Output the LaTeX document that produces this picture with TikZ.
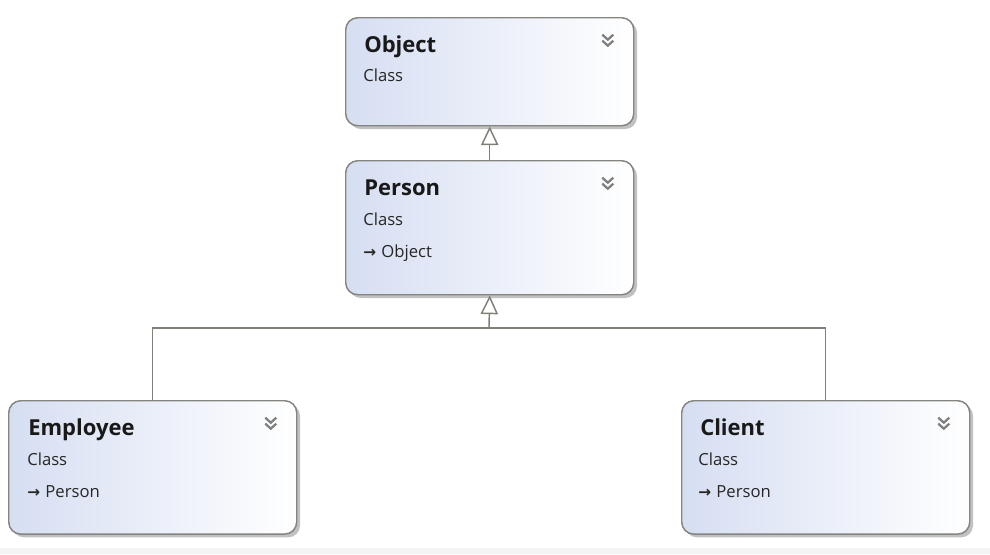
\documentclass[tikz,border=0pt]{standalone}
\usepackage{fontspec}
\setmainfont{Open Sans}
\newfontfamily\arrowfont{DejaVu Sans}
\usetikzlibrary{arrows.meta,shadows}
\definecolor{boxline}{RGB}{132,132,128}
\definecolor{boxleft}{RGB}{214,222,242}
\definecolor{conn}{RGB}{128,128,120}
\definecolor{strip}{RGB}{244,244,244}
\tikzset{
  classbox/.style={draw=boxline,line width=1.1pt,rounded corners=9pt,left color=boxleft,right color=white,
    minimum width=216pt,inner sep=0pt,anchor=north west,
    drop shadow={shadow xshift=2.5pt,shadow yshift=-2.5pt,fill=black!30,opacity=.8}},
  title/.style={anchor=base west,inner sep=0pt,font=\bfseries\fontsize{16.5}{19}\selectfont,text=black!90},
  info/.style={anchor=base west,inner sep=0pt,font=\fontsize{12.5}{14}\selectfont,text=black!85},
  link/.style={draw=conn,line width=1.1pt},
  inherit/.style={link,-{Triangle[open,length=14pt,width=13pt,fill=white]}},
  fold/.pic={\draw[gray,line width=1.7pt] (-5.5,-5) -- (0,0) -- (5.5,-5) (-5.5,1) -- (0,6) -- (5.5,1);}
}
\newcommand\basetype{{\arrowfont\bfseries\fontsize{11.5}{13}\selectfont →}\hspace{4pt}}
\begin{document}
\begin{tikzpicture}[x=0.75pt,y=-0.75pt]
                \useasboundingbox (0,0) rectangle (990,554);
                \fill[strip] (0,548) rectangle (990,554);
                \node[classbox,minimum height=81pt] (object) at (345,17) {};
                \node[classbox,minimum height=100.5pt] (person) at (345,160) {};
                \node[classbox,minimum height=100pt] (employee) at (8,400) {};
                \node[classbox,minimum height=100pt] (client) at (681,400) {};
                \node[title] (objectname) at (364,52) {Object};
                \node[info] (objectkind) at (363,81) {Class};
                \node[title] (personname) at (364,195) {Person};
                \node[info] (personkind) at (363,225) {Class};
                \node[info] (personbase) at (363,257) {\basetype Object};
                \node[title] (employeename) at (28,435) {Employee};
                \node[info] (employeekind) at (27,465) {Class};
                \node[info] (employeebase) at (27,497) {\basetype Person};
                \node[title] (clientname) at (700,435) {Client};
                \node[info] (clientkind) at (698,465) {Class};
                \node[info] (clientbase) at (698,497) {\basetype Person};
                \foreach \cls in {object,person,employee,client}
                    \pic at ([xshift=-20pt,yshift=-17pt]\cls.north east) {fold};
                \coordinate (bus) at (489,328);
                \draw[inherit] (person.north) -- (object.south);
                \draw[link] (employee.north) |- (bus) -| (client.north);
                \draw[inherit] (bus) -- (person.south);
\end{tikzpicture}
\end{document}
